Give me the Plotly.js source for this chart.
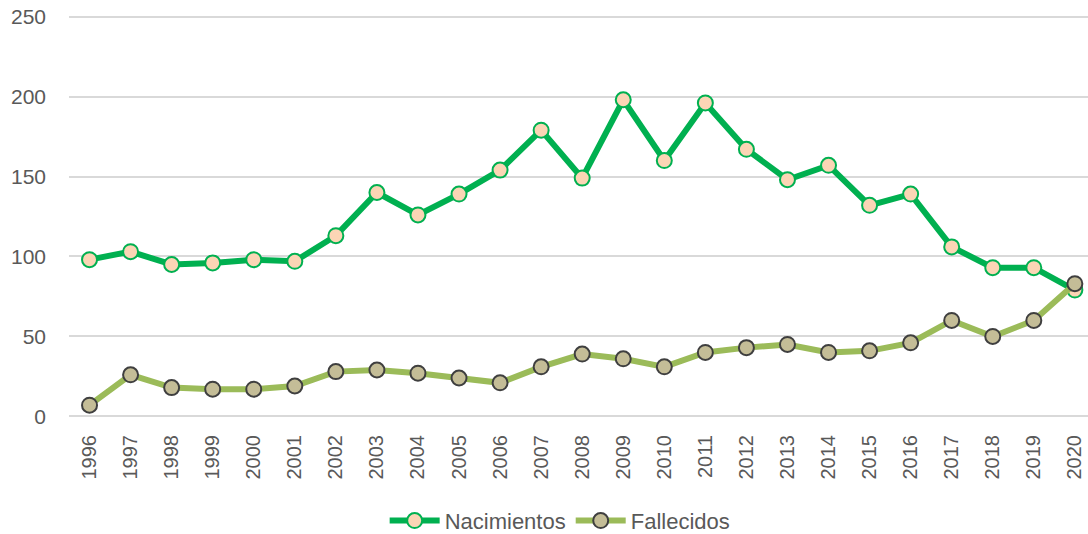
<!DOCTYPE html>
<html>
<head>
<meta charset="utf-8">
<script src="https://cdn.plot.ly/plotly-3.0.1.min.js"></script>
<style>html,body{margin:0;padding:0;background:#fff}#chart{width:1088px;height:534px}</style>
</head>
<body>
<div id="chart"></div>
<script>
const years = ["1996","1997","1998","1999","2000","2001","2002","2003","2004","2005","2006","2007","2008","2009","2010","2011","2012","2013","2014","2015","2016","2017","2018","2019","2020"];
const nacimientos = [98,103,95,96,98,97,113,140,126,139,154,179,149,198,160,196,167,148,157,132,139,106,93,93,79];
const fallecidos = [7,26,18,17,17,19,28,29,27,24,21,31,39,36,31,40,43,45,40,41,46,60,50,60,83];
const yTicks = [0,50,100,150,200,250];

const font = "Liberation Sans, Arial, sans-serif";
const traces = [
  {
    x: years, y: nacimientos, name: "Nacimientos", type: "scatter", mode: "lines+markers",
    line: {color: "#00B050", width: 6},
    marker: {size: 15, color: "#FBD5B5", line: {color: "#00B050", width: 2}},
    cliponaxis: false
  },
  {
    x: years, y: fallecidos, name: "Fallecidos", type: "scatter", mode: "lines+markers",
    line: {color: "#9BBB59", width: 6},
    marker: {size: 15, color: "#C4BD97", line: {color: "#3F3F3F", width: 2}},
    cliponaxis: false
  }
];
const layout = {
  width: 1088, height: 534,
  margin: {l: 69, r: 0, t: 15, b: 116, autoexpand: false},
  paper_bgcolor: "#fff", plot_bgcolor: "#fff",
  font: {family: font, color: "#595959"},
  showlegend: true,
  legend: {orientation: "h", x: 0.482, xanchor: "center", y: -0.255, yanchor: "middle",
           itemwidth: 50,
           font: {size: 22, color: "#595959", family: font}, traceorder: "normal"},
  xaxis: {
    type: "category", range: [-0.5, 24.32], tickangle: -90, automargin: false,
    tickfont: {size: 20, color: "#595959"}, showgrid: false, zeroline: false,
    showline: false, ticks: "", ticklabelstandoff: 12, fixedrange: true
  },
  yaxis: {
    range: [-1, 251], tickvals: yTicks, ticktext: yTicks.map(String), automargin: false,
    tickfont: {size: 21, color: "#595959"}, showgrid: true, gridcolor: "#D9D9D9", gridwidth: 2,
    zeroline: false, showline: false, ticks: "", ticklabelstandoff: 22, fixedrange: true
  }
};
Plotly.newPlot("chart", traces, layout, {displayModeBar: false, staticPlot: true});
</script>
</body>
</html>
